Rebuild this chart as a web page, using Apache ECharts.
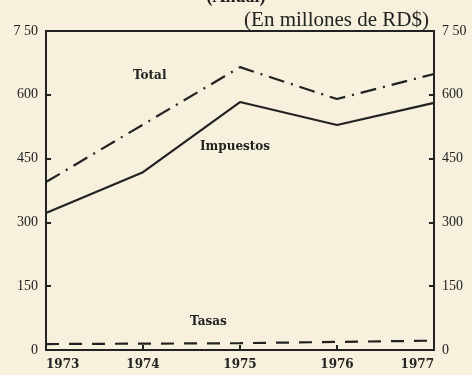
<!DOCTYPE html>
<html>
<head>
<meta charset="utf-8">
<script src="https://cdn.jsdelivr.net/npm/echarts@6/dist/echarts.min.js"></script>
<style>
  html, body { margin: 0; padding: 0; background: #f6f0dc; }
  #chart { width: 472px; height: 375px; }
</style>
</head>
<body>
<div id="chart"></div>
<script>
// Ingresos anuales, en millones de RD$
const years = ['1973', '1974', '1975', '1976', '1977'];
const total = [395, 530, 665, 590, 649];
const impuestos = [322, 418, 583, 529, 581];
const tasas = [14, 15, 16, 19, 22];
const yTickLabels = ['0', '150', '300', '450', '600', '7 50'];

const ink = '#222';
const serif = '"Liberation Serif", "DejaVu Serif", serif';
const wideSerif = '"DejaVu Serif", serif';

const yLabel = v => yTickLabels[Math.round(v / 150)];

function yAxis(pos) {
  return {
    type: 'value', position: pos, min: 0, max: 750, interval: 150,
    axisLine: { show: true, lineStyle: { color: ink, width: 2 } },
    axisTick: { show: true, inside: true, length: 5, lineStyle: { color: ink, width: 2 } },
    splitLine: { show: false },
    axisLabel: { formatter: yLabel, color: ink, fontFamily: serif, fontSize: 14, margin: 8 }
  };
}

const chart = echarts.init(document.getElementById('chart'));
chart.setOption({
  backgroundColor: '#f6f0dc',
  animation: false,
  grid: { left: 46, right: 38, top: 31, bottom: 25, show: true, borderColor: ink, borderWidth: 2 },
  title: [
    { text: '(Anual)', left: 'center', top: -17,
      textStyle: { fontFamily: serif, fontSize: 18, fontWeight: 'bold', color: ink } },
    { text: '(En millones de RD$)', right: 38, top: 5,
      textStyle: { fontFamily: serif, fontSize: 21, fontWeight: 'normal', color: ink } }
  ],
  xAxis: {
    type: 'category', data: years, boundaryGap: false,
    axisLine: { show: true, lineStyle: { color: ink, width: 2 } },
    axisTick: { show: true, inside: true, length: 5, lineStyle: { color: ink, width: 2 } },
    axisLabel: { color: ink, fontFamily: wideSerif, fontSize: 12, fontWeight: 'bold', margin: 9,
                 alignMinLabel: 'left', alignMaxLabel: 'right' }
  },
  yAxis: [yAxis('left'), yAxis('right')],
  series: [
    { name: 'Total', type: 'line', data: total, symbol: 'none',
      lineStyle: { color: ink, width: 2.2, type: [16, 7, 2, 7] } },
    { name: 'Impuestos', type: 'line', data: impuestos, symbol: 'none',
      lineStyle: { color: ink, width: 2.2 } },
    { name: 'Tasas', type: 'line', data: tasas, symbol: 'none',
      lineStyle: { color: ink, width: 2.2, type: [13, 10] } }
  ],
  graphic: [
    { type: 'text', left: 133, top: 70,
      style: { text: 'Total', font: 'bold 12px ' + wideSerif, fill: ink } },
    { type: 'text', left: 200, top: 141,
      style: { text: 'Impuestos', font: 'bold 12px ' + wideSerif, fill: ink } },
    { type: 'text', left: 190, top: 316,
      style: { text: 'Tasas', font: 'bold 12px ' + wideSerif, fill: ink } }
  ]
});
</script>
</body>
</html>
